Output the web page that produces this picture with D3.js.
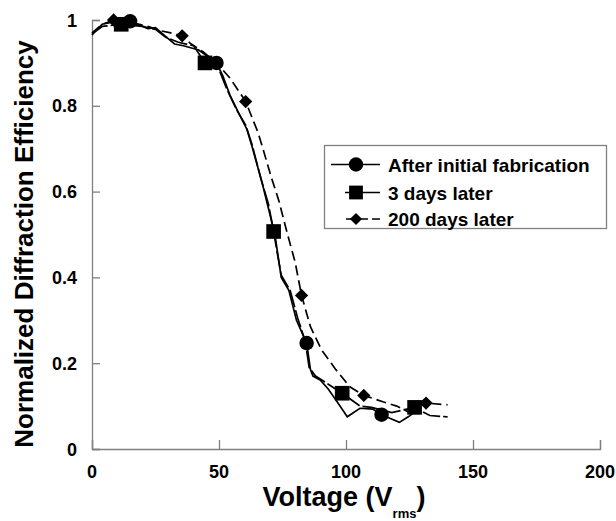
<!DOCTYPE html>
<html>
<head>
<meta charset="utf-8">
<script src="https://cdn.jsdelivr.net/npm/d3@7"></script>
<style>
  body { margin: 0; background: #fff; }
  text { font-family: "Liberation Sans", Arial, sans-serif; font-weight: bold; }
</style>
</head>
<body>
<div id="chart"></div>
<script>
// After initial fabrication (solid line, circles)
const afterX = [0, 4, 8, 15, 22, 25, 28.5, 32.5, 36, 42, 49, 51.5, 54.3, 58, 61, 63, 67, 69.5, 72, 73.5, 74.5, 77.5, 80.5, 84.5, 86, 87, 90, 93, 96.5, 100.5, 105.5, 110.5, 114, 121, 124.5, 128];
const afterY = [0.965, 0.99, 0.995, 0.997, 0.98, 0.982, 0.964, 0.944, 0.94, 0.93, 0.9, 0.87, 0.825, 0.78, 0.745, 0.705, 0.62, 0.56, 0.5, 0.44, 0.4, 0.37, 0.3, 0.247, 0.185, 0.17, 0.16, 0.14, 0.11, 0.075, 0.095, 0.093, 0.08, 0.062, 0.075, 0.09];
const afterMarkX = [15, 49, 84.5, 114];
const afterMarkY = [0.997, 0.9, 0.247, 0.08];

// 3 days later (long dash, squares)
const day3X = [0, 4, 11.5, 20, 25, 29, 34, 40, 44.5, 50, 53, 57, 60.5, 63, 66.5, 69.5, 71.5, 73, 74.5, 78, 81, 84, 85.5, 88, 92, 98.5, 105.5, 110, 118, 127, 133, 140];
const day3Y = [0.968, 0.985, 0.99, 0.985, 0.978, 0.96, 0.948, 0.94, 0.9, 0.885, 0.84, 0.79, 0.755, 0.71, 0.63, 0.57, 0.507, 0.455, 0.405, 0.37, 0.305, 0.25, 0.19, 0.17, 0.155, 0.13, 0.1, 0.097, 0.085, 0.097, 0.078, 0.075];
const day3MarkX = [11.5, 44.5, 71.5, 98.5, 127];
const day3MarkY = [0.99, 0.9, 0.507, 0.13, 0.097];

// 200 days later (dashed, diamonds)
const day200X = [0, 4, 8.5, 15, 22, 27, 31, 35.5, 38.6, 43.7, 49, 54.3, 60.5, 65.4, 67.3, 70.5, 73.5, 77, 80, 82.5, 86, 90.5, 96, 101.5, 107, 114.5, 120, 125, 131.5, 140];
const day200Y = [0.97, 0.99, 1.0, 0.995, 0.985, 0.975, 0.97, 0.963, 0.946, 0.926, 0.9, 0.865, 0.81, 0.737, 0.70, 0.635, 0.58, 0.5, 0.435, 0.358, 0.285, 0.23, 0.185, 0.145, 0.125, 0.11, 0.1, 0.085, 0.107, 0.103];
const day200MarkX = [8.5, 35.5, 60.5, 82.5, 107, 131.5];
const day200MarkY = [1.0, 0.963, 0.81, 0.358, 0.125, 0.107];

const xTicks = [0, 50, 100, 150, 200];
const yTicks = [0, 0.2, 0.4, 0.6, 0.8, 1];
const legendLabels = ["After initial fabrication", "3 days later", "200 days later"];

const zip = (xs, ys) => xs.map((x, i) => ({ x: x, y: ys[i] }));

const width = 616, height = 521;
const svg = d3.select("#chart").append("svg")
    .attr("width", width)
    .attr("height", height);

const x = d3.scaleLinear().domain([0, 200]).range([92, 600]);
const y = d3.scaleLinear().domain([0, 1]).range([449, 20]);

// Axes (gray, ticks pointing inward)
const xAxis = svg.append("g")
    .attr("transform", `translate(0,${y(0)})`)
    .call(d3.axisTop(x).tickValues(xTicks).tickSize(9).tickFormat(""));
const yAxis = svg.append("g")
    .attr("transform", `translate(${x(0)},0)`)
    .call(d3.axisRight(y).tickValues(yTicks).tickSize(8).tickFormat(""));
[xAxis, yAxis].forEach(a => {
    a.select(".domain").attr("stroke", "#808080").attr("stroke-width", 1.3);
    a.selectAll(".tick line").attr("stroke", "#808080").attr("stroke-width", 1.3);
});

// Tick labels
svg.selectAll(".xlab")
    .data(xTicks)
    .enter().append("text")
    .attr("x", d => x(d))
    .attr("y", 478)
    .attr("text-anchor", "middle")
    .attr("font-size", 18)
    .text(d => d);
svg.selectAll(".ylab")
    .data(yTicks)
    .enter().append("text")
    .attr("x", 77)
    .attr("y", d => y(d) + 6.5)
    .attr("text-anchor", "end")
    .attr("font-size", 18)
    .text(d => d);

// Axis titles
svg.append("text")
    .attr("transform", "translate(33,244) rotate(-90)")
    .attr("text-anchor", "middle")
    .attr("font-size", 26)
    .text("Normalized Diffraction Efficiency");
const xt = svg.append("text")
    .attr("x", 344)
    .attr("y", 506)
    .attr("text-anchor", "middle")
    .attr("font-size", 27);
xt.append("tspan").text("Voltage (V");
xt.append("tspan").attr("font-size", 13).attr("dy", 12).text("rms");
xt.append("tspan").attr("dy", -12).text(")");

const line = d3.line().x(d => x(d.x)).y(d => y(d.y));

// diamonds are drawn as squares turned 45 degrees
const series = [
    { pts: zip(afterX, afterY), marks: zip(afterMarkX, afterMarkY), dash: null, sym: d3.symbolCircle, size: 165, rot: 0 },
    { pts: zip(day3X, day3Y), marks: zip(day3MarkX, day3MarkY), dash: "18,3", sym: d3.symbolSquare, size: 215, rot: 0 },
    { pts: zip(day200X, day200Y), marks: zip(day200MarkX, day200MarkY), dash: "10,5", sym: d3.symbolSquare, size: 88, rot: 45 }
];

series.forEach(s => {
    svg.append("path")
        .datum(s.pts)
        .attr("fill", "none")
        .attr("stroke", "#000")
        .attr("stroke-width", 1.7)
        .attr("stroke-dasharray", s.dash)
        .attr("d", line);
});
series.forEach(s => {
    svg.selectAll(null)
        .data(s.marks)
        .enter().append("path")
        .attr("transform", d => `translate(${x(d.x)},${y(d.y)}) rotate(${s.rot})`)
        .attr("d", d3.symbol().type(s.sym).size(s.size))
        .attr("fill", "#000");
});

// Legend
const lg = svg.append("g");
lg.append("rect")
    .attr("x", 324.5).attr("y", 145.5)
    .attr("width", 282).attr("height", 83)
    .attr("fill", "#fff")
    .attr("stroke", "#808080")
    .attr("stroke-width", 1.3);
const rowY = [164.5, 192.5, 219];
const lineStart = [331, 345, 346];
const legendSize = [165, 190, 75];
series.forEach((s, i) => {
    lg.append("line")
        .attr("x1", lineStart[i]).attr("x2", 380)
        .attr("y1", rowY[i]).attr("y2", rowY[i])
        .attr("stroke", "#000")
        .attr("stroke-width", 1.7)
        .attr("stroke-dasharray", i === 2 ? "9,4" : null);
    lg.append("path")
        .attr("transform", `translate(356,${rowY[i]}) rotate(${s.rot})`)
        .attr("d", d3.symbol().type(s.sym).size(legendSize[i]))
        .attr("fill", "#000");
    lg.append("text")
        .attr("x", 388)
        .attr("y", rowY[i] + 7)
        .attr("font-size", 19)
        .text(legendLabels[i]);
});
</script>
</body>
</html>
